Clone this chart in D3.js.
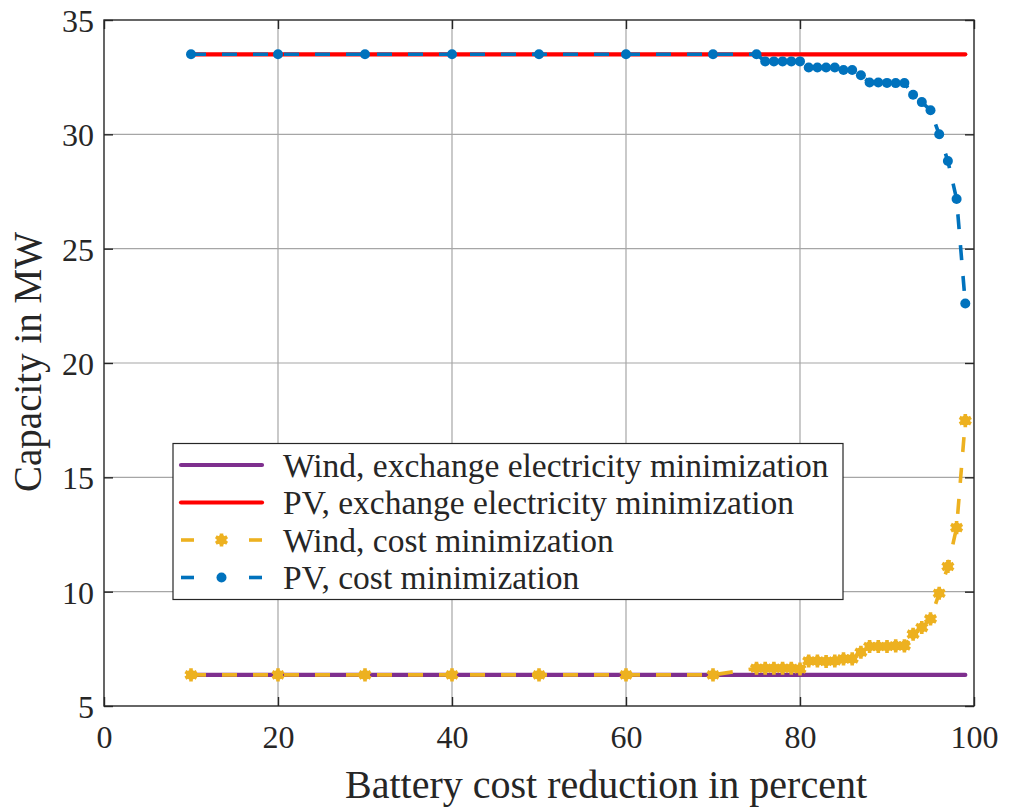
<!DOCTYPE html>
<html lang="en">
<head>
    <meta charset="UTF-8">
    <title>Capacity vs battery cost reduction</title>
    <script src="https://d3js.org/d3.v7.min.js"></script>
    <style>
        body { margin: 0; background: #fff; }
        svg { display: block; }
        text { font-family: "Liberation Serif", "DejaVu Serif", serif; fill: #262626; }
        .grid line { stroke: #a6a6a6; stroke-width: 1.2px; }
        .axis path, .axis line { stroke: #262626; stroke-width: 1.4px; }
    </style>
</head>
<body>
    <svg width="1013" height="808"></svg>
    <script>
        // battery cost reduction (%) at which the optimisations were run
        const reduction = [10, 20, 30, 40, 50, 60, 70, 75, 76, 77, 78, 79, 80, 81, 82, 83,
                           84, 85, 86, 87, 88, 89, 90, 91, 92, 93, 94, 95, 96, 97, 98, 99];

        const windExchange = [6.36, 6.36, 6.36, 6.36, 6.36, 6.36, 6.36, 6.36, 6.36, 6.36, 6.36, 6.36, 6.36, 6.36, 6.36, 6.36,
                              6.36, 6.36, 6.36, 6.36, 6.36, 6.36, 6.36, 6.36, 6.36, 6.36, 6.36, 6.36, 6.36, 6.36, 6.36, 6.36];
        const pvExchange = [33.5, 33.5, 33.5, 33.5, 33.5, 33.5, 33.5, 33.5, 33.5, 33.5, 33.5, 33.5, 33.5, 33.5, 33.5, 33.5,
                            33.5, 33.5, 33.5, 33.5, 33.5, 33.5, 33.5, 33.5, 33.5, 33.5, 33.5, 33.5, 33.5, 33.5, 33.5, 33.5];
        const windCost = [6.36, 6.36, 6.36, 6.36, 6.36, 6.36, 6.36, 6.65, 6.65, 6.65, 6.65, 6.65, 6.62, 6.97, 6.97, 6.95,
                          6.97, 7.06, 7.06, 7.35, 7.6, 7.6, 7.6, 7.63, 7.63, 8.14, 8.43, 8.81, 9.93, 11.1, 12.8, 17.48];
        const pvCost = [33.5, 33.5, 33.5, 33.5, 33.5, 33.5, 33.5, 33.5, 33.19, 33.19, 33.19, 33.19, 33.19, 32.92, 32.92, 32.92,
                        32.92, 32.81, 32.81, 32.58, 32.27, 32.27, 32.25, 32.24, 32.24, 31.73, 31.41, 31.05, 30.0, 28.83, 27.17, 22.6];

        const xTicks = [0, 20, 40, 60, 80, 100];
        const yTicks = [5, 10, 15, 20, 25, 30, 35];

        const series = [
            { name: "Wind, exchange electricity minimization", values: windExchange, color: "#7e2f8e", dash: null, marker: null },
            { name: "PV, exchange electricity minimization", values: pvExchange, color: "#ff0000", dash: null, marker: null },
            { name: "Wind, cost minimization", values: windCost, color: "#edb120", dash: "15,16", marker: "star" },
            { name: "PV, cost minimization", values: pvCost, color: "#0072bd", dash: "15,16", marker: "dot" }
        ];

        const svg = d3.select("svg");
        const pL = 104, pR = 974, pT = 20, pB = 706;

        const x = d3.scaleLinear().domain([0, 100]).range([pL, pR]);
        const y = d3.scaleLinear().domain([5, 35]).range([pB, pT]);

        // grid
        const grid = svg.append("g").attr("class", "grid");
        grid.selectAll(".gx").data(xTicks.slice(1, -1)).enter().append("line")
            .attr("x1", d => x(d)).attr("x2", d => x(d))
            .attr("y1", pT).attr("y2", pB);
        grid.selectAll(".gy").data(yTicks.slice(1, -1)).enter().append("line")
            .attr("x1", pL).attr("x2", pR)
            .attr("y1", d => y(d)).attr("y2", d => y(d));

        // axes with inward ticks, plus top/right box
        const tk = 9;
        svg.append("g").attr("class", "axis").attr("transform", `translate(0,${pB})`)
            .call(d3.axisBottom(x).tickValues(xTicks).tickSizeInner(-tk).tickSizeOuter(0).tickPadding(19).tickFormat(d3.format("d")))
            .call(g => g.selectAll("text").attr("font-size", 32).attr("dy", "0.71em"));
        svg.append("g").attr("class", "axis").attr("transform", `translate(${pL},0)`)
            .call(d3.axisLeft(y).tickValues(yTicks).tickSizeInner(-tk).tickSizeOuter(0).tickPadding(10).tickFormat(d3.format("d")))
            .call(g => g.selectAll("text").attr("font-size", 32).attr("dy", "0.36em"));
        svg.append("g").attr("class", "axis").attr("transform", `translate(0,${pT})`)
            .call(d3.axisTop(x).tickValues(xTicks).tickSizeInner(-tk).tickSizeOuter(0).tickFormat(""));
        svg.append("g").attr("class", "axis").attr("transform", `translate(${pR},0)`)
            .call(d3.axisRight(y).tickValues(yTicks).tickSizeInner(-tk).tickSizeOuter(0).tickFormat(""));
        svg.selectAll(".axis .domain").remove();
        svg.append("rect").attr("x", pL).attr("y", pT)
            .attr("width", pR - pL).attr("height", pB - pT)
            .attr("fill", "none").attr("stroke", "#262626").attr("stroke-width", 1.4);

        // lines
        const line = d3.line().x(d => x(d[0])).y(d => y(d[1]));
        const star = d3.symbol().type(d3.symbolAsterisk).size(120);

        function drawMarker(g, kind, color) {
            if (kind === "dot") {
                g.append("circle").attr("r", 5).attr("fill", color);
            } else if (kind === "star") {
                g.append("circle").attr("r", 5).attr("fill", color);
                g.append("path").attr("d", star()).attr("fill", "none")
                    .attr("stroke", color).attr("stroke-width", 3.6);
            }
        }

        series.forEach(s => {
            const pts = reduction.map((r, i) => [r, s.values[i]]);
            svg.append("path").datum(pts)
                .attr("d", line)
                .attr("fill", "none")
                .attr("stroke", s.color)
                .attr("stroke-width", s.dash ? 3.6 : 4.2)
                .attr("stroke-linecap", s.dash ? "butt" : "round")
                .attr("stroke-dasharray", s.dash);
            if (s.marker) {
                pts.forEach(p => {
                    const g = svg.append("g").attr("transform", `translate(${x(p[0])},${y(p[1])})`);
                    drawMarker(g, s.marker, s.color);
                });
            }
        });

        // axis labels
        svg.append("text").attr("x", 606).attr("y", 798)
            .attr("text-anchor", "middle").attr("font-size", 40)
            .text("Battery cost reduction in percent");
        svg.append("text").attr("transform", "translate(41,362) rotate(-90)")
            .attr("text-anchor", "middle").attr("font-size", 39)
            .text("Capacity in MW");

        // legend
        const lg = svg.append("g");
        lg.append("rect").attr("x", 173).attr("y", 443.5).attr("width", 670).attr("height", 156)
            .attr("fill", "#fff").attr("stroke", "#262626").attr("stroke-width", 1.2);
        const rowY = [465, 502.5, 540, 577.5];
        series.forEach((s, i) => {
            const yy = rowY[i];
            lg.append("line").attr("x1", 181).attr("x2", s.dash ? 194 : 262).attr("y1", yy).attr("y2", yy)
                .attr("stroke", s.color).attr("stroke-width", s.dash ? 3.6 : 4.2)
                .attr("stroke-linecap", s.dash ? "butt" : "round");
            if (s.dash) {
                lg.append("line").attr("x1", 249).attr("x2", 262).attr("y1", yy).attr("y2", yy)
                    .attr("stroke", s.color).attr("stroke-width", 3.6);
                drawMarker(lg.append("g").attr("transform", `translate(221.5,${yy})`), s.marker, s.color);
            }
            lg.append("text").attr("x", 283).attr("y", yy).attr("dy", "0.35em")
                .attr("font-size", 33.5).text(s.name);
        });
    </script>
</body>
</html>
